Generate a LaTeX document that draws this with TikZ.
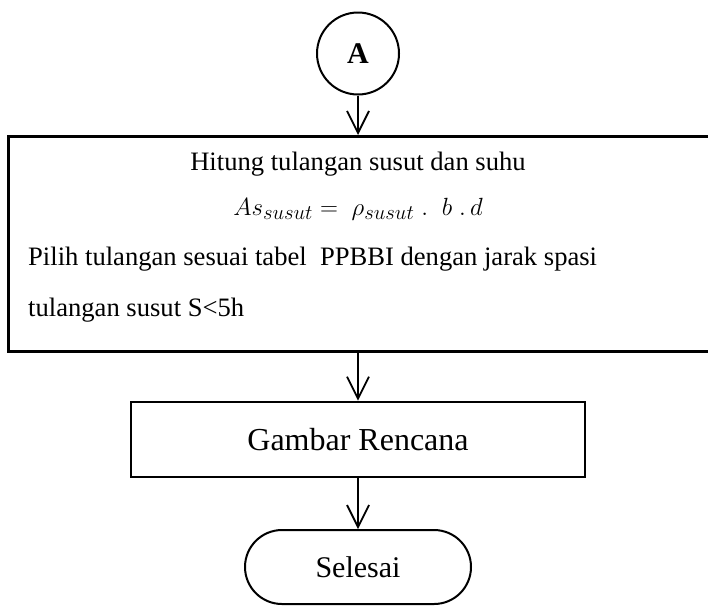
\documentclass[tikz,border=0pt]{standalone}
\usepackage{fontspec}
\setmainfont{Liberation Serif}
\usetikzlibrary{arrows.meta,shapes.misc}
\begin{document}
\begin{tikzpicture}[x=1pt,y=-1pt,
  frame/.style={draw,line width=2.6pt,inner sep=0pt},
  flow/.style={line width=1.8pt,-{Straight Barb[length=22pt,width=22pt,line width=1.8pt]}},
  txt/.style={inner sep=0pt,font=\fontsize{26.6}{30}\selectfont},
]
\useasboundingbox (0,0) rectangle (708,606);
\clip (0,0) rectangle (708,606);

% connector marker
\node[circle,draw,line width=2pt,minimum size=82pt,inner sep=0pt,
      font=\fontsize{30}{34}\selectfont\bfseries] (A) at (358,53.5) {A};

% reinforcement calculation block (runs past the right margin)
\node[frame,minimum width=716pt,minimum height=215pt,anchor=north west] (calc) at (7,135) {};
\node[txt,anchor=base] (t1) at (358,170) {Hitung tulangan susut dan suhu};
\node[inner sep=0pt,anchor=base,font=\fontsize{31}{34}\selectfont] (t2) at (358,215)
     {$As_{susut} = \;\rho_{susut}\;.\;\;b\;.\,d$};
\node[txt,anchor=base west] (t3) at (28,265) {Pilih tulangan sesuai tabel\ \ PPBBI dengan jarak spasi};
\node[txt,anchor=base west] (t4) at (28,316) {tulangan susut S<5h};

% drawing step
\node[frame,minimum width=454pt,minimum height=75pt,
      font=\fontsize{32}{36}\selectfont] (draw) at (358,439.5) {Gambar Rencana};

% end terminator
\node[rounded rectangle,draw,line width=2pt,minimum width=226pt,minimum height=74pt,
      inner sep=0pt,font=\fontsize{30}{34}\selectfont] (end) at (358,567) {Selesai};

\draw[flow] (A.south) -- (A.south |- calc.north);
\draw[flow] (A |- calc.south) -- (A |- draw.north);
\draw[flow] (draw.south) -- (draw.south |- end.north);
\end{tikzpicture}
\end{document}
